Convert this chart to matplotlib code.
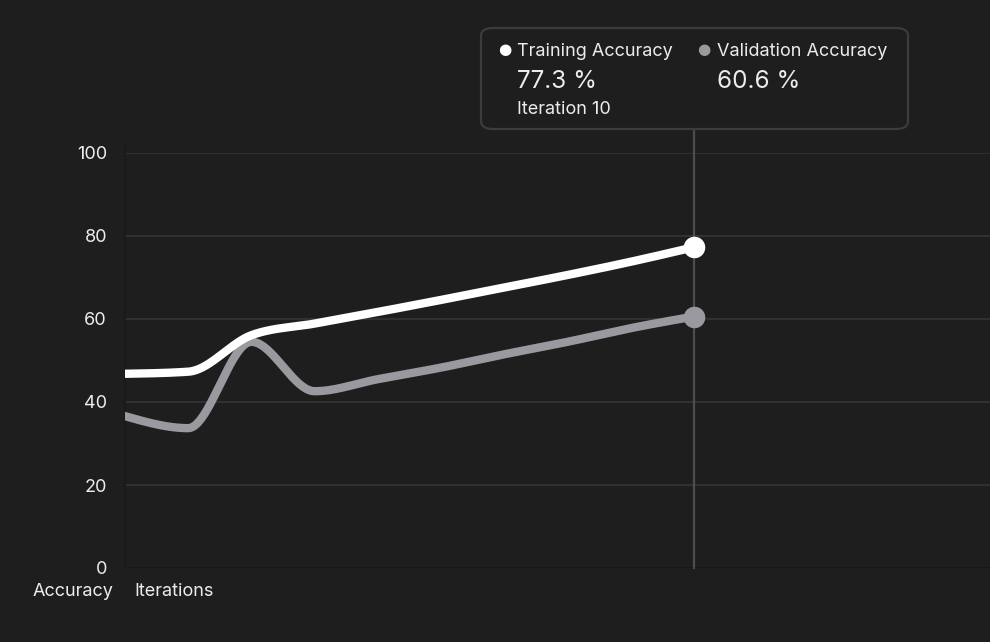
import matplotlib.pyplot as plt
import numpy as np
from matplotlib.patches import FancyBboxPatch

plt.rcParams['font.family'] = ['Inter', 'DejaVu Sans']

BG = '#1e1e1e'
TEXT = '#ececec'
TRAIN_COLOR = '#ffffff'
VAL_COLOR = '#9a999f'

iterations = [1, 2, 3, 4, 5, 6, 7, 8, 9, 10]
training_acc = [46.8, 47.3, 56.1, 58.9, 61.7, 64.6, 67.6, 70.6, 73.8, 77.3]
validation_acc = [36.6, 33.7, 54.5, 42.6, 45.5, 48.3, 51.5, 54.5, 57.8, 60.6]
y_ticks = [0, 20, 40, 60, 80, 100]


def monotone_curve(xs, ys, n=40):
    # monotone cubic (same idea as d3 curveMonotoneX)
    xs = np.asarray(xs, float)
    ys = np.asarray(ys, float)
    h = np.diff(xs)
    s = np.diff(ys) / h
    t = np.zeros(len(xs))
    for i in range(1, len(xs) - 1):
        p = (s[i - 1] * h[i] + s[i] * h[i - 1]) / (h[i - 1] + h[i])
        t[i] = (np.sign(s[i - 1]) + np.sign(s[i])) * min(abs(s[i - 1]), abs(s[i]), 0.5 * abs(p))
    t[0] = (3 * s[0] - t[1]) / 2
    t[-1] = (3 * s[-1] - t[-2]) / 2
    out_x, out_y = [], []
    for i in range(len(xs) - 1):
        u = np.linspace(0, 1, n)
        h00 = 2 * u**3 - 3 * u**2 + 1
        h10 = u**3 - 2 * u**2 + u
        h01 = -2 * u**3 + 3 * u**2
        h11 = u**3 - u**2
        out_x.extend(xs[i] + u * h[i])
        out_y.extend(h00 * ys[i] + h10 * h[i] * t[i] + h01 * ys[i + 1] + h11 * h[i] * t[i + 1])
    return np.array(out_x), np.array(out_y)


fig = plt.figure(figsize=(9.9, 6.42), dpi=100, facecolor=BG)
ax = fig.add_axes([125 / 990, 1 - 568 / 642, 865 / 990, 415 / 642])
ax.set_facecolor(BG)

x_end = 1 + 865 / ((694 - 125) / 9)
ax.set_xlim(1, x_end)
ax.set_ylim(0, 100)

for v in y_ticks[1:]:
    ax.axhline(v, color='#343434', lw=1.3, zorder=1)
ax.axhline(0, color='#171717', lw=1.3, zorder=1)

for spine in ax.spines.values():
    spine.set_visible(False)
ax.axvline(1, color='#1a1a1a', lw=1.3, ymin=0, ymax=1.02, clip_on=False, zorder=1)

ax.set_yticks(y_ticks)
ax.set_yticklabels([str(v) for v in y_ticks])
ax.tick_params(axis='y', length=0, pad=13, labelsize=13, labelcolor=TEXT)
ax.set_xticks([])

# hover crosshair
ax.axvline(iterations[-1], ymin=0, ymax=(568 - 129) / 415, color='#4d4d4d', lw=1.6,
           clip_on=False, zorder=2)

tx, ty = monotone_curve(iterations, training_acc)
vx, vy = monotone_curve(iterations, validation_acc)
ax.plot(vx, vy, color=VAL_COLOR, lw=6, solid_capstyle='round', zorder=3)
ax.plot(tx, ty, color=TRAIN_COLOR, lw=6, solid_capstyle='round', zorder=4)
ax.plot(iterations[-1], validation_acc[-1], 'o', ms=14.5, color=VAL_COLOR, zorder=5)
ax.plot(iterations[-1], training_acc[-1], 'o', ms=14.5, color=TRAIN_COLOR, zorder=6)

# axis captions
fig.text(113 / 990, 1 - 591 / 642, 'Accuracy', ha='right', va='center', fontsize=13, color=TEXT)
fig.text(134 / 990, 1 - 591 / 642, 'Iterations', ha='left', va='center', fontsize=13, color=TEXT)

# tooltip box
box = FancyBboxPatch((481 / 990, 1 - 129 / 642), 427 / 990, 101 / 642,
                     boxstyle='round,pad=0,rounding_size=0.012',
                     transform=fig.transFigure, facecolor=BG, edgecolor='#3c3c3c', lw=1.6,
                     zorder=10)
fig.patches.append(box)

fig.text(505 / 990, 1 - 49 / 642, '\u25cf', ha='center', va='center', fontsize=11,
         color=TRAIN_COLOR, family='DejaVu Sans', zorder=11)
fig.text(517 / 990, 1 - 51 / 642, 'Training Accuracy', ha='left', va='center',
         fontsize=13, color=TEXT, zorder=11)
fig.text(517 / 990, 1 - 82 / 642, f'{training_acc[-1]:.1f} %', ha='left', va='center',
         fontsize=17.5, color=TEXT, zorder=11)
fig.text(517 / 990, 1 - 110 / 642, f'Iteration {iterations[-1]}', ha='left', va='center',
         fontsize=13, color=TEXT, zorder=11)

fig.text(704 / 990, 1 - 49 / 642, '\u25cf', ha='center', va='center', fontsize=11,
         color=VAL_COLOR, family='DejaVu Sans', zorder=11)
fig.text(717 / 990, 1 - 51 / 642, 'Validation Accuracy', ha='left', va='center',
         fontsize=13, color=TEXT, zorder=11)
fig.text(717 / 990, 1 - 82 / 642, f'{validation_acc[-1]:.1f} %', ha='left', va='center',
         fontsize=17.5, color=TEXT, zorder=11)

fig.savefig('out.png', dpi=100, facecolor=BG)
